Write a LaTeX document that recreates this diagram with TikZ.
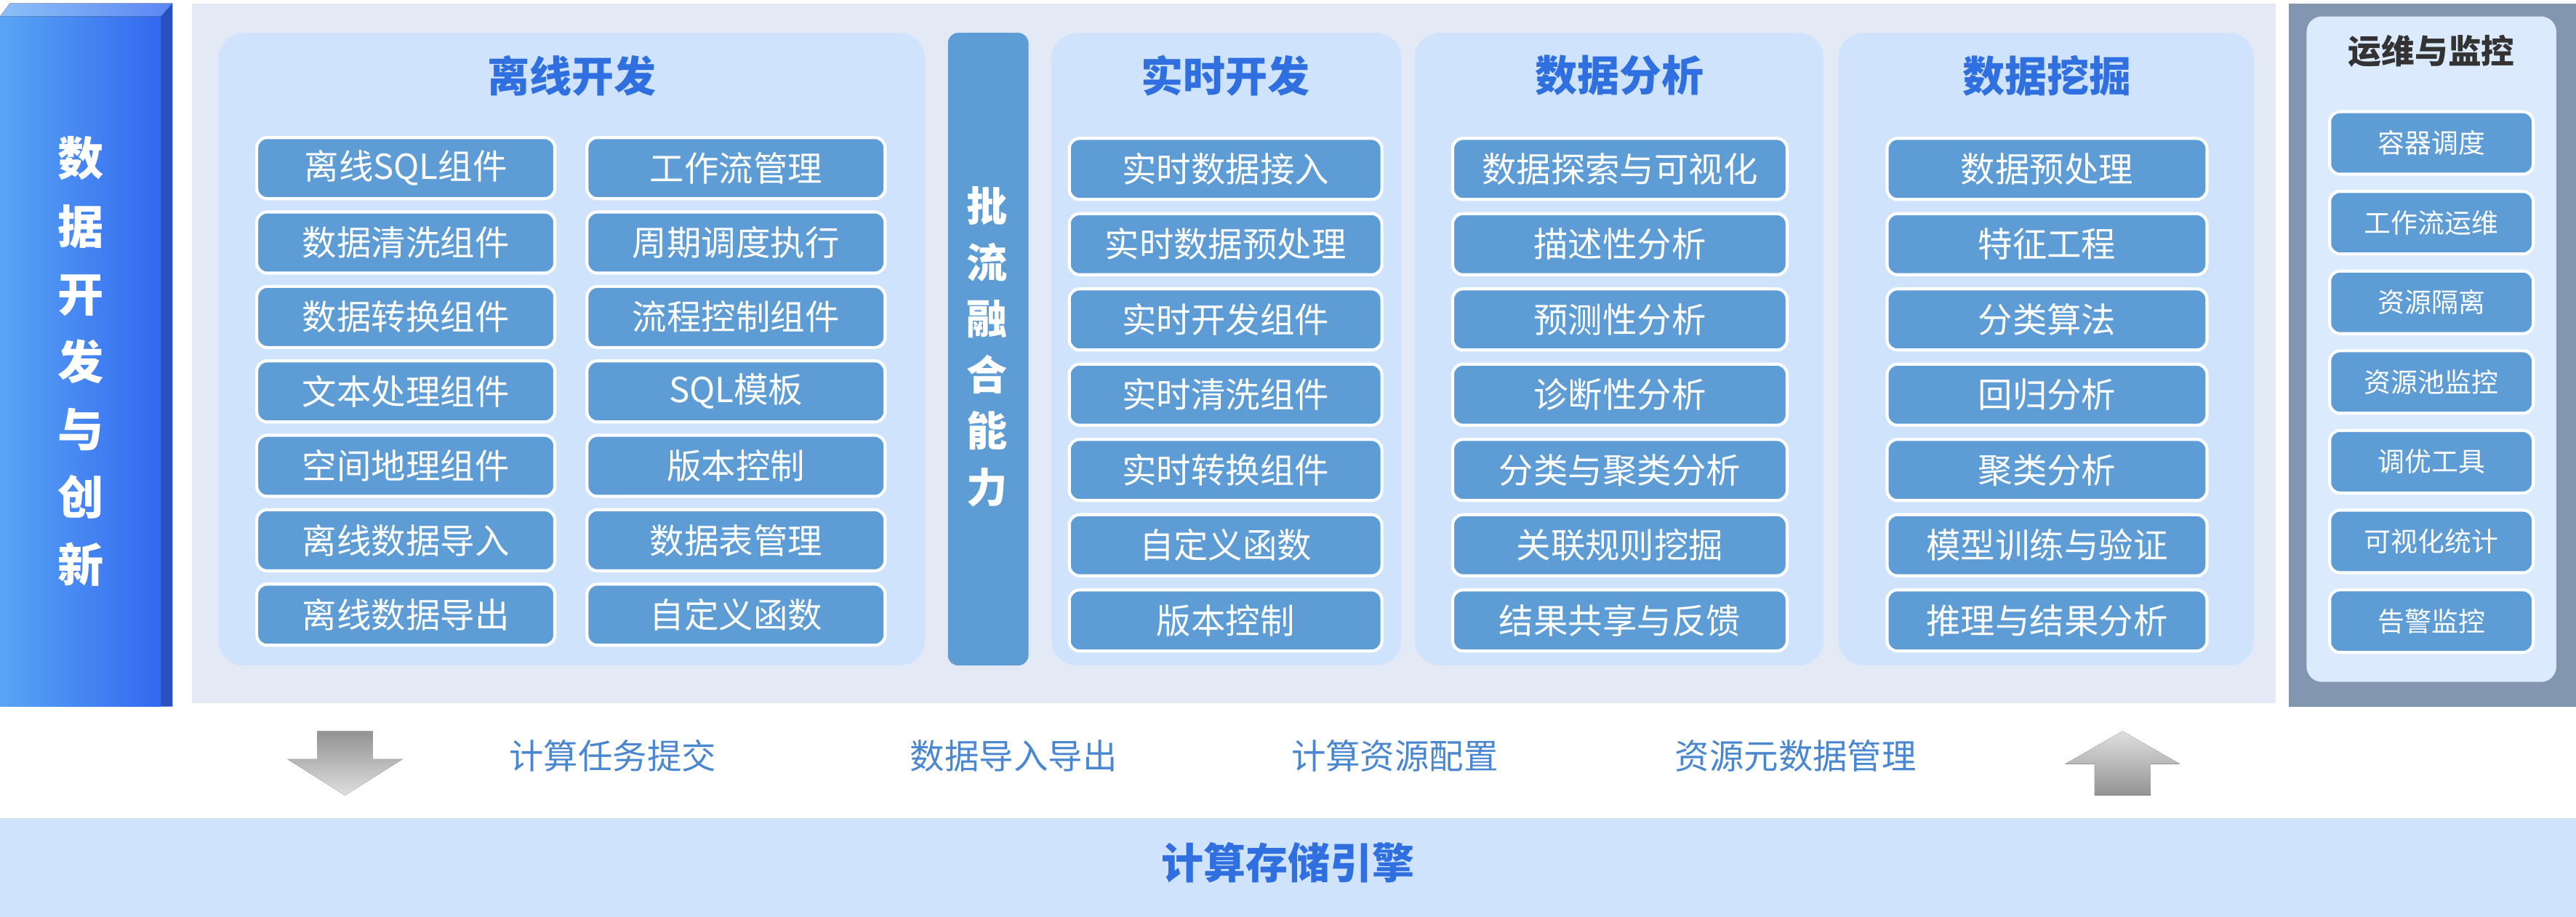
\documentclass[tikz,border=0pt]{standalone}
\usepackage{fontspec}
\setmainfont{Noto Sans CJK SC}
\usetikzlibrary{positioning}

\definecolor{btnblue}{HTML}{5E9CD5}
\definecolor{panelblue}{HTML}{CFE4FC}
\definecolor{basegray}{HTML}{E3E9F5}
\definecolor{titleblue}{HTML}{2F6FE0}
\definecolor{opsgray}{HTML}{8296B0}
\definecolor{opsinner}{HTML}{DBEAFD}
\definecolor{labelblue}{HTML}{4A87D0}
\definecolor{devlight}{HTML}{5AA5F5}
\definecolor{devdark}{HTML}{3268F0}
\definecolor{devedge}{HTML}{2850C0}

\tikzset{
    btn/.style={draw=white, line width=1.2pt, fill=btnblue, rounded corners=4pt, text=white,
        minimum height=0.84cm, font=\fontsize{13.5}{15}\selectfont, inner sep=0pt},
    opsbtn/.style={btn, minimum width=2.8cm, minimum height=0.86cm, font=\fontsize{10.5}{12}\selectfont},
    panel/.style={fill=panelblue, rounded corners=10pt},
    ptitle/.style={text=titleblue, font=\fontsize{16.5}{18}\selectfont\bfseries},
    flowlabel/.style={text=labelblue, font=\fontsize{13.5}{15}\selectfont}
}

\begin{document}
\begin{tikzpicture}[x=0.0226cm, y=-0.0226cm]
    \useasboundingbox (0,0) rectangle (1568,558);

    % left column
    \fill[left color=devlight, right color=devdark] (0,10) rectangle (98,430);
    \fill[left color=devlight!70!white, right color=devdark!80!white] (0,10) -- (6,2) -- (105,2) -- (98,10) -- cycle;
    \fill[devedge] (98,10) -- (105,2) -- (105,430) -- (98,430) -- cycle;
    \node[text=white, font=\fontsize{18}{26.5}\selectfont\bfseries, align=center] (dev) at (49,220)
        {数\\据\\开\\发\\与\\创\\新};

    % base area
    \fill[basegray] (117,2) rectangle (1385,428);

    % panels
    \fill[panel] (133,20) rectangle (563,405);
    \fill[panel] (640,20) rectangle (853,405);
    \fill[panel] (861,20) rectangle (1110,405);
    \fill[panel] (1119,20) rectangle (1372,405);
    \node[ptitle] (offline) at (348,46) {离线开发};
    \node[ptitle] (realtime) at (746,46) {实时开发};
    \node[ptitle] (analysis) at (986,46) {数据分析};
    \node[ptitle] (mining) at (1246,46) {数据挖掘};

    % batch stream bar
    \fill[btnblue, rounded corners=4pt] (577,20) rectangle (626,405);
    \node[text=white, font=\fontsize{16}{22}\selectfont\bfseries, align=center] (fusion) at (601,211)
        {批\\流\\融\\合\\能\\力};

    % offline buttons
    \foreach \t [count=\i] in {离线SQL组件,数据清洗组件,数据转换组件,文本处理组件,空间地理组件,离线数据导入,离线数据导出}
        \node[btn, minimum width=4.1cm] (offl\i) at (247,57+45.3*\i) {\t};
    \foreach \t [count=\i] in {工作流管理,周期调度执行,流程控制组件,SQL模板,版本控制,数据表管理,自定义函数}
        \node[btn, minimum width=4.1cm] (offr\i) at (448,57+45.3*\i) {\t};

    % realtime buttons
    \foreach \t [count=\i] in {实时数据接入,实时数据预处理,实时开发组件,实时清洗组件,实时转换组件,自定义函数,版本控制}
        \node[btn, minimum width=4.3cm] (rt\i) at (746,57+45.8*\i) {\t};

    % analysis buttons
    \foreach \t [count=\i] in {数据探索与可视化,描述性分析,预测性分析,诊断性分析,分类与聚类分析,关联规则挖掘,结果共享与反馈}
        \node[btn, minimum width=4.6cm] (da\i) at (986,57+45.8*\i) {\t};

    % mining buttons
    \foreach \t [count=\i] in {数据预处理,特征工程,分类算法,回归分析,聚类分析,模型训练与验证,推理与结果分析}
        \node[btn, minimum width=4.4cm] (dm\i) at (1246,57+45.8*\i) {\t};

    % ops and monitoring
    \fill[opsgray] (1393,2) rectangle (1568,430);
    \fill[opsinner, rounded corners=6pt] (1404,10) rectangle (1556,415);
    \node[text=black!80, font=\fontsize{13}{15}\selectfont\bfseries] (ops) at (1480,31) {运维与监控};
    \foreach \t [count=\i] in {容器调度,工作流运维,资源隔离,资源池监控,调优工具,可视化统计,告警监控}
        \node[opsbtn] (op\i) at (1480,38.5+48.5*\i) {\t};

    % middle row
    \fill[top color=gray!85, bottom color=gray!25] (193,445) -- (227,445) -- (227,462) -- (245,462)
        -- (210,484) -- (175,462) -- (193,462) -- cycle;
    \fill[top color=gray!25, bottom color=gray!85] (1275,484) -- (1309,484) -- (1309,465) -- (1327,465)
        -- (1292,445) -- (1257,465) -- (1275,465) -- cycle;
    \node[flowlabel] (submit) at (373,460) {计算任务提交};
    \node[flowlabel] (impexp) at (617,460) {数据导入导出};
    \node[flowlabel] (config) at (849,460) {计算资源配置};
    \node[flowlabel] (meta) at (1093,460) {资源元数据管理};

    % engine
    \fill[panelblue] (0,498) rectangle (1568,558);
    \node[ptitle] (engine) at (784,525) {计算存储引擎};
\end{tikzpicture}
\end{document}
